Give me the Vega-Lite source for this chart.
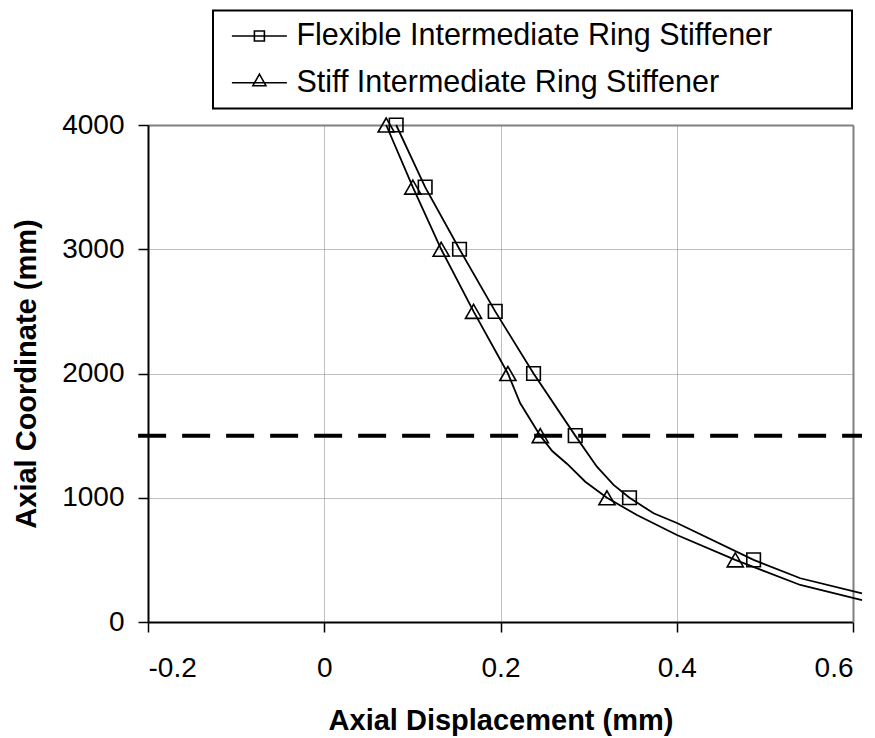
{
  "$schema": "https://vega.github.io/schema/vega-lite/v6.json",
  "width": 705,
  "height": 497,
  "autosize": "none",
  "padding": {"left": 148, "top": 125, "right": 22, "bottom": 116},
  "background": "white",
  "config": {
    "font": "Liberation Sans",
    "view": {"stroke": null},
    "axis": {
      "domainColor": "black",
      "domainWidth": 2,
      "tickColor": "black",
      "tickWidth": 1.5,
      "tickSize": 10,
      "labelFont": "Liberation Sans",
      "labelFontSize": 28,
      "labelColor": "black",
      "titleFont": "Liberation Sans",
      "titleFontSize": 29,
      "titleFontWeight": "bold",
      "titleColor": "black",
      "gridColor": "#808080",
      "gridDash": [1, 1],
      "gridWidth": 1,
      "gridOpacity": 1
    }
  },
  "datasets": {
    "curves": [
      {"series": "Flexible Intermediate Ring Stiffener", "disp": 0.0816, "coord": 4000, "marker": true},
      {"series": "Flexible Intermediate Ring Stiffener", "disp": 0.1145, "coord": 3500, "marker": true},
      {"series": "Flexible Intermediate Ring Stiffener", "disp": 0.1535, "coord": 3000, "marker": true},
      {"series": "Flexible Intermediate Ring Stiffener", "disp": 0.1940, "coord": 2500, "marker": true},
      {"series": "Flexible Intermediate Ring Stiffener", "disp": 0.2375, "coord": 2000, "marker": true},
      {"series": "Flexible Intermediate Ring Stiffener", "disp": 0.2848, "coord": 1500, "marker": true},
      {"series": "Flexible Intermediate Ring Stiffener", "disp": 0.3094, "coord": 1250, "marker": false},
      {"series": "Flexible Intermediate Ring Stiffener", "disp": 0.3283, "coord": 1103, "marker": false},
      {"series": "Flexible Intermediate Ring Stiffener", "disp": 0.3464, "coord": 1000, "marker": true},
      {"series": "Flexible Intermediate Ring Stiffener", "disp": 0.3737, "coord": 875, "marker": false},
      {"series": "Flexible Intermediate Ring Stiffener", "disp": 0.4002, "coord": 797, "marker": false},
      {"series": "Flexible Intermediate Ring Stiffener", "disp": 0.4872, "coord": 500, "marker": true},
      {"series": "Flexible Intermediate Ring Stiffener", "disp": 0.5402, "coord": 352, "marker": false},
      {"series": "Flexible Intermediate Ring Stiffener", "disp": 0.6102, "coord": 231, "marker": false},
      {"series": "Stiff Intermediate Ring Stiffener", "disp": 0.0703, "coord": 4000, "marker": true},
      {"series": "Stiff Intermediate Ring Stiffener", "disp": 0.1005, "coord": 3500, "marker": true},
      {"series": "Stiff Intermediate Ring Stiffener", "disp": 0.1327, "coord": 3000, "marker": true},
      {"series": "Stiff Intermediate Ring Stiffener", "disp": 0.1694, "coord": 2500, "marker": true},
      {"series": "Stiff Intermediate Ring Stiffener", "disp": 0.2084, "coord": 2000, "marker": true},
      {"series": "Stiff Intermediate Ring Stiffener", "disp": 0.2224, "coord": 1760, "marker": false},
      {"series": "Stiff Intermediate Ring Stiffener", "disp": 0.2451, "coord": 1500, "marker": true},
      {"series": "Stiff Intermediate Ring Stiffener", "disp": 0.2587, "coord": 1376, "marker": false},
      {"series": "Stiff Intermediate Ring Stiffener", "disp": 0.2757, "coord": 1272, "marker": false},
      {"series": "Stiff Intermediate Ring Stiffener", "disp": 0.2962, "coord": 1129, "marker": false},
      {"series": "Stiff Intermediate Ring Stiffener", "disp": 0.3208, "coord": 1000, "marker": true},
      {"series": "Stiff Intermediate Ring Stiffener", "disp": 0.3548, "coord": 861, "marker": false},
      {"series": "Stiff Intermediate Ring Stiffener", "disp": 0.4002, "coord": 700, "marker": false},
      {"series": "Stiff Intermediate Ring Stiffener", "disp": 0.4664, "coord": 500, "marker": true},
      {"series": "Stiff Intermediate Ring Stiffener", "disp": 0.5402, "coord": 298, "marker": false},
      {"series": "Stiff Intermediate Ring Stiffener", "disp": 0.6102, "coord": 177, "marker": false}
    ],
    "dash": [
      {"from": -0.2112, "to": 0.6102, "coord": 1500}
    ]
  },
  "resolve": {"axis": {"x": "independent", "y": "independent"}},
  "layer": [
    {
      "data": {"name": "curves"},
      "mark": {"type": "line", "strokeWidth": 1.8},
      "encoding": {
        "x": {
          "field": "disp", "type": "quantitative",
          "scale": {"domain": [-0.2, 0.6], "nice": false, "zero": false},
          "axis": {"title": "Axial Displacement (mm)", "values": [-0.2, 0, 0.2, 0.4, 0.6], "labelExpr": "'' + datum.value", "labelPadding": 22, "titlePadding": 24, "grid": true}
        },
        "y": {
          "field": "coord", "type": "quantitative",
          "scale": {"domain": [0, 4000], "nice": false},
          "axis": {"title": "Axial Coordinate (mm)", "values": [0, 1000, 2000, 3000, 4000], "format": "d", "labelPadding": 14, "titlePadding": 20, "grid": true}
        },
        "color": {
          "field": "series", "type": "nominal",
          "scale": {"domain": ["Flexible Intermediate Ring Stiffener", "Stiff Intermediate Ring Stiffener"], "range": ["black", "black"]},
          "legend": {
            "title": null,
            "orient": "none",
            "legendX": 65,
            "legendY": -114.5,
            "direction": "vertical",
            "padding": 10,
            "strokeColor": "black",
            "fillColor": "white",
            "labelFont": "Liberation Sans",
            "labelFontSize": 30.5,
            "labelColor": "black",
            "labelLimit": 1000,
            "rowPadding": 15.7,
            "labelOffset": 21,
            "symbolOffset": 20.4,
            "symbolSize": 900,
            "clipHeight": 31,
            "symbolStrokeWidth": 1.6,
            "symbolStrokeColor": "black",
            "symbolFillColor": "transparent",
            "encode": {
              "symbols": {"update": {
                "shape": {"signal": "datum.value === 'Flexible Intermediate Ring Stiffener' ? 'M-1.833,0L1.833,0M-0.333,-0.333L0.333,-0.333L0.333,0.333L-0.333,0.333Z' : 'M-1.833,0L1.833,0M0,-0.567L0.433,0.2L-0.433,0.2Z'"},
                "fill": {"value": "transparent"},
                "size": {"value": 900}
              }},
              "entries": {"update": {"width": {"value": 619}}},
              "legend": {"update": {"strokeWidth": {"value": 2}}}
            }
          }
        },
        "order": {"field": "coord", "sort": "descending"}
      }
    },
    {
      "data": {"name": "curves"},
      "transform": [{"filter": "datum.marker && datum.series === 'Flexible Intermediate Ring Stiffener'"}],
      "mark": {"type": "point", "shape": "square", "filled": false, "color": "black", "strokeWidth": 1.6, "opacity": 1, "size": 185},
      "encoding": {
        "x": {"field": "disp", "type": "quantitative", "scale": {"domain": [-0.2, 0.6], "nice": false, "zero": false}, "axis": null},
        "y": {"field": "coord", "type": "quantitative", "scale": {"domain": [0, 4000], "nice": false}, "axis": null}
      }
    },
    {
      "data": {"name": "curves"},
      "transform": [{"filter": "datum.marker && datum.series === 'Stiff Intermediate Ring Stiffener'"}],
      "mark": {"type": "point", "shape": "triangle-up", "filled": false, "color": "black", "strokeWidth": 1.6, "opacity": 1, "size": 260},
      "encoding": {
        "x": {"field": "disp", "type": "quantitative", "scale": {"domain": [-0.2, 0.6], "nice": false, "zero": false}, "axis": null},
        "y": {"field": "coord", "type": "quantitative", "scale": {"domain": [0, 4000], "nice": false}, "axis": null}
      }
    },
    {
      "data": {"name": "dash"},
      "mark": {"type": "rule", "color": "black", "strokeWidth": 4, "strokeDash": [28, 16]},
      "encoding": {
        "x": {"field": "from", "type": "quantitative", "scale": {"domain": [-0.2, 0.6], "nice": false, "zero": false},
              "axis": {"orient": "top", "labels": false, "ticks": false, "grid": false, "title": null, "domainColor": "#808080", "domainWidth": 2}},
        "x2": {"field": "to"},
        "y": {"field": "coord", "type": "quantitative", "scale": {"domain": [0, 4000], "nice": false},
              "axis": {"orient": "right", "labels": false, "ticks": false, "grid": false, "title": null, "domainColor": "#808080", "domainWidth": 2}}
      }
    }
  ]
}
